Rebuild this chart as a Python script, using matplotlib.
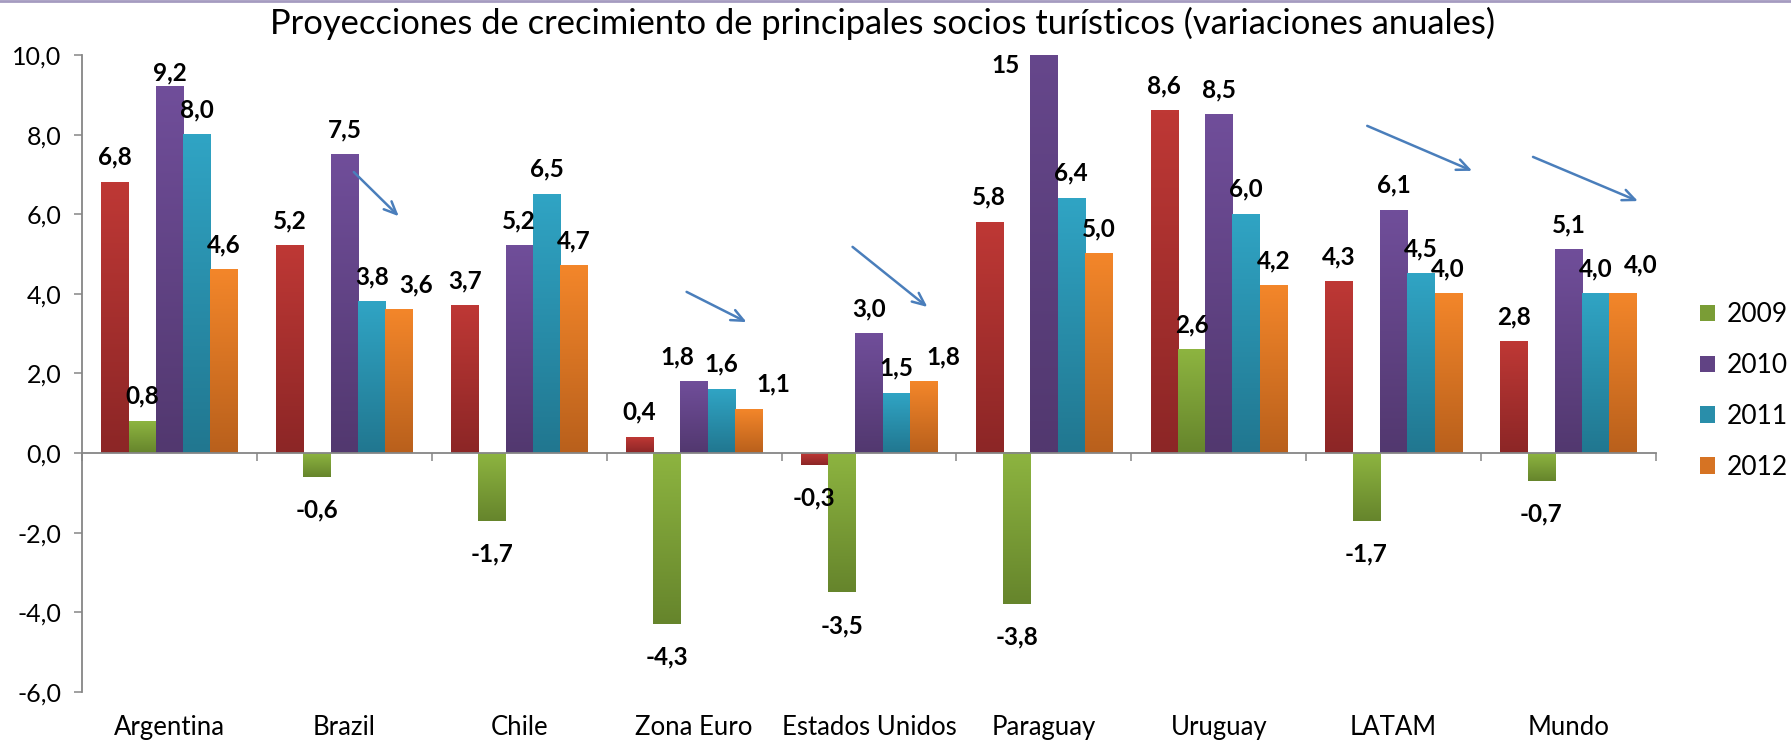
import numpy as np
import matplotlib
matplotlib.use("Agg")
import matplotlib.pyplot as plt
from matplotlib.patches import Patch
from matplotlib.colors import to_rgb

plt.rcParams['font.family'] = ['Lato', 'DejaVu Sans']

# data
categories = ['Argentina', 'Brazil', 'Chile', 'Zona Euro', 'Estados Unidos',
              'Paraguay', 'Uruguay', 'LATAM', 'Mundo']
series_names = ['2008', '2009', '2010', '2011', '2012']
v2008 = [6.8, 5.2, 3.7, 0.4, -0.3, 5.8, 8.6, 4.3, 2.8]
v2009 = [0.8, -0.6, -1.7, -4.3, -3.5, -3.8, 2.6, -1.7, -0.7]
v2010 = [9.2, 7.5, 5.2, 1.8, 3.0, 15.0, 8.5, 6.1, 5.1]
v2011 = [8.0, 3.8, 6.5, 1.6, 1.5, 6.4, 6.0, 4.5, 4.0]
v2012 = [4.6, 3.6, 4.7, 1.1, 1.8, 5.0, 4.2, 4.0, 4.0]
values = [v2008, v2009, v2010, v2011, v2012]
legend_series = ['2009', '2010', '2011', '2012']   # 2008 not in legend
yticks = [-6, -4, -2, 0, 2, 4, 6, 8, 10]
title = 'Proyecciones de crecimiento de principales socios turísticos (variaciones anuales)'

# gradient colours (top, bottom) per series
grad = {
    '2008': ('#BE3835', '#8C2626'),
    '2009': ('#8DB440', '#66852C'),
    '2010': ('#704E9A', '#52386F'),
    '2011': ('#30A4C4', '#217790'),
    '2012': ('#F3862A', '#B9601C'),
}

# hand-drawn arrows on the slide: (x0, y0) -> (x1, y1) in data units
arrows = [((1.054, 7.06), (1.311, 5.95)),
          ((2.957, 4.05), (3.300, 3.29)),
          ((3.906, 5.18), (4.334, 3.67)),
          ((6.849, 8.22), (7.449, 7.09)),
          ((7.797, 7.44), (8.397, 6.33))]

# manual label nudges in pixels (series idx, category idx): (dx, dy)
label_nudge = {(2, 0): (0, -11), (2, 3): (-17, 0), (4, 3): (25, 0),
               (4, 4): (20, 0), (2, 5): (-38, -36), (4, 1): (17, 0),
               (4, 8): (18, 4)}

axis_grey = '#868686'
ylo, yhi = -6, 10
PT = 0.72  # points per pixel at dpi 100


def fill_gradient(ax, rect, top, bottom):
    x0, w = rect.get_x(), rect.get_width()
    y0, h = rect.get_y(), rect.get_height()
    lo, hi = min(y0, y0 + h), max(y0, y0 + h)
    t = np.linspace(0, 1, 64)[:, None]
    img = (1 - t) * np.array(to_rgb(top)) + t * np.array(to_rgb(bottom))
    ax.imshow(img[:, None, :], extent=(x0, x0 + w, lo, hi), origin='upper',
              aspect='auto', interpolation='bilinear', zorder=2)


def fmt(v):
    if abs(v) >= 10:
        return f'{v:.0f}'
    return f'{v:.1f}'.replace('.', ',')


fig = plt.figure(figsize=(17.91, 7.42), dpi=100)
ax = fig.add_axes([0.0458, 0.0674, 0.8788, 0.8585])

x = np.arange(len(categories))
w = 0.156
for j, (name, vals) in enumerate(zip(series_names, values)):
    bars = ax.bar(x + (j - 2) * w, vals, w, color='none', edgecolor='none', zorder=2)
    for i, (b, v) in enumerate(zip(bars, vals)):
        fill_gradient(ax, b, *grad[name])
        dx, dy = label_nudge.get((j, i), (0, 0))
        anchor = min(v, yhi)
        base = 25 if v >= 0 else -33
        ax.annotate(fmt(v), (b.get_x() + w / 2, anchor),
                    xytext=(dx * PT, (base + dy) * PT), textcoords='offset points',
                    ha='center', va='center', fontsize=17.5, fontweight='bold',
                    color='black', zorder=4, annotation_clip=False)

ax.set_xlim(-0.5, len(categories) - 0.5)
ax.set_ylim(ylo, yhi)

# axes styling
for s in ['top', 'right']:
    ax.spines[s].set_visible(False)
ax.spines['left'].set_color(axis_grey)
ax.spines['left'].set_linewidth(1.3)
ax.spines['bottom'].set_position(('data', 0))
ax.spines['bottom'].set_color(axis_grey)
ax.spines['bottom'].set_linewidth(1.3)
ax.spines['bottom'].set_zorder(3)

ax.set_yticks(yticks, [f'{t:.1f}'.replace('.', ',') for t in yticks])
ax.tick_params(axis='y', length=5.8, width=1.1, color=axis_grey, pad=9,
               labelsize=18, labelcolor='black')
ax.set_xticks(np.arange(-0.5, len(categories), 1.0))
ax.tick_params(axis='x', length=5.8, width=1.1, color=axis_grey, labelbottom=False)

sec = ax.secondary_xaxis(0.0)
sec.set_xticks(x, categories)
sec.tick_params(length=0, pad=16.5, labelsize=18.5, labelcolor='black')
sec.spines['bottom'].set_visible(False)

for (p0, p1) in arrows:
    ax.annotate('', xy=p1, xytext=p0,
                arrowprops=dict(arrowstyle='->,head_length=0.9,head_width=0.4',
                                color='#4A7EBB', lw=1.8, shrinkA=0, shrinkB=0),
                annotation_clip=False, zorder=5)

# legend
handles = [Patch(facecolor=np.mean([to_rgb(c) for c in grad[n]], axis=0), edgecolor='none')
           for n in legend_series]
fig.legend(handles, legend_series, loc='center left',
           bbox_to_anchor=(1700 / 1791, 1 - 391 / 742), frameon=False,
           fontsize=19, handlelength=0.57, handleheight=0.57,
           handletextpad=0.45, labelspacing=0.98, borderpad=0, borderaxespad=0)

fig.text(883 / 1791, 1 - 23 / 742, title, ha='center', va='center', fontsize=24.8)
fig.add_artist(plt.Line2D([0, 1], [0.999, 0.999], color='#A59BC0', lw=2,
                          transform=fig.transFigure))

fig.savefig('out.png', dpi=100)
